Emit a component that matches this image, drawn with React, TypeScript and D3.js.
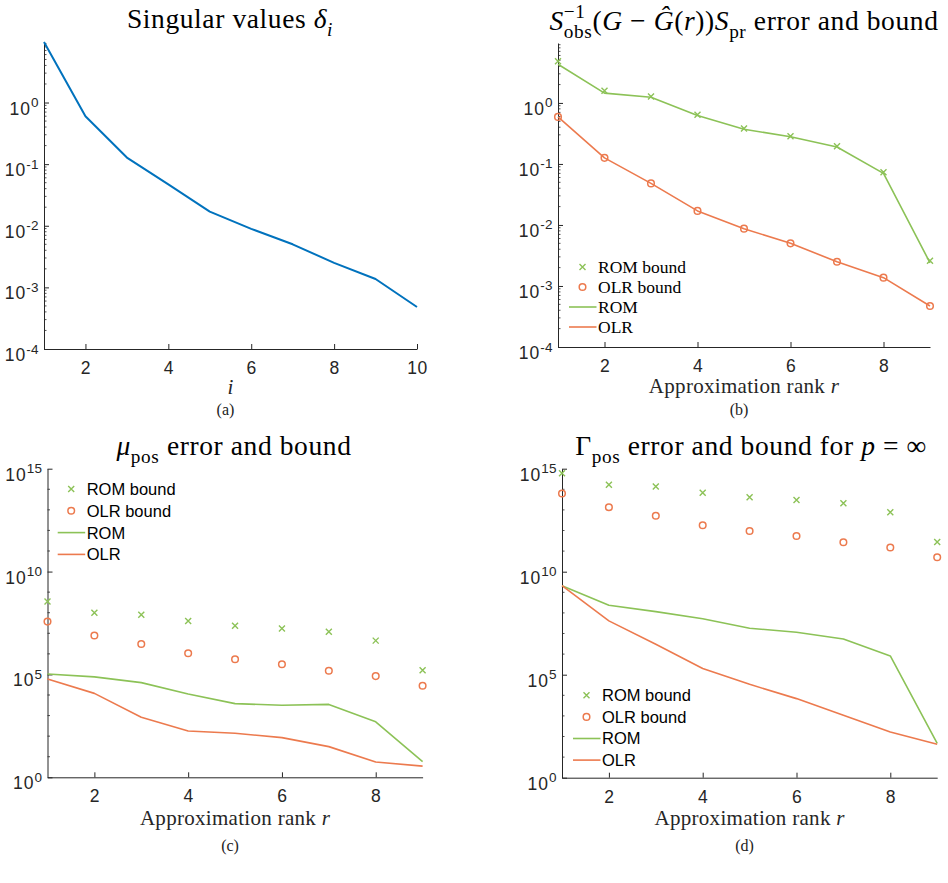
import React, { useEffect, useRef } from 'react';
import * as d3 from 'd3';

// ---- data ----
const idx = [1, 2, 3, 4, 5, 6, 7, 8, 9, 10];
const singularValues = [9.6, 0.6, 0.128, 0.047, 0.017, 0.0089, 0.005, 0.0025, 0.00137, 0.00048];

const ranks = [1, 2, 3, 4, 5, 6, 7, 8, 9];

// (b) S_obs^-1 (G - G(r)) S_pr
const bRomBound = [4.8, 1.58, 1.27, 0.64, 0.38, 0.285, 0.195, 0.073, 0.0026];
const bOlrBound = [0.59, 0.126, 0.048, 0.017, 0.0087, 0.005, 0.0025, 0.00137, 0.00047];
const bRom = [4.3, 1.45, 1.24, 0.62, 0.37, 0.28, 0.19, 0.07, 0.0024];
const bOlr = [0.59, 0.126, 0.048, 0.017, 0.0087, 0.005, 0.0025, 0.00137, 0.00047];

// (c) mu_pos
const cRomBound = [3.5e8, 1e8, 8e7, 4e7, 2.3e7, 1.7e7, 1.2e7, 4.4e6, 1.6e5];
const cOlrBound = [3.7e7, 7.8e6, 3e6, 1.07e6, 5.5e5, 3.1e5, 1.5e5, 8.3e4, 2.8e4];
const cRom = [1.05e5, 7.6e4, 4e4, 1.12e4, 3.8e3, 3.2e3, 3.5e3, 500, 5.8];
const cOlr = [6e4, 1.2e4, 830, 178, 138, 85, 31, 5.5, 3.5];

// (d) Gamma_pos, p = inf
const dRomBound = [6e14, 1.66e14, 1.38e14, 6.8e13, 4.1e13, 3e13, 2.1e13, 7.6e12, 2.75e11];
const dOlrBound = [6.3e13, 1.35e13, 5.2e12, 1.8e12, 9.5e11, 5.4e11, 2.7e11, 1.5e11, 5e10];
const dRom = [2.1e9, 2.35e8, 1.15e8, 5.2e7, 1.8e7, 1.15e7, 5.4e6, 8.1e5, 47];
const dOlr = [2.1e9, 4.1e7, 3e6, 2e5, 3.4e4, 6.9e3, 1.07e3, 166, 42];

const legendLabels = ['ROM bound', 'OLR bound', 'ROM', 'OLR'];

const BLUE = '#0072bd';
const GREEN = '#8cc257';
const ORANGE = '#ec7a4e';
const AXIS = '#262626';
const SERIF = '"Liberation Serif", "Times New Roman", serif';
const SANS = '"Liberation Sans", Arial, sans-serif';

interface Seg { t?: string; it?: boolean; sub?: boolean; stack?: { sup: string; sub: string } }

function richText(sel: any, segs: Seg[], fs: number, family: string) {
  let shift = 0;
  segs.forEach(s => {
    if (s.stack) {
      const up = -0.42 * fs;
      const sp = sel.append('tspan').attr('font-family', family).attr('font-size', fs * 0.7)
        .attr('dy', up - shift).text(s.stack.sup);
      const w = (sp.node() as SVGTextContentElement).getComputedTextLength();
      const down = 0.3 * fs;
      sel.append('tspan').attr('font-family', family).attr('font-size', fs * 0.7)
        .attr('dx', -w).attr('dy', down - up).text(s.stack.sub);
      shift = down;
      return;
    }
    const target = s.sub ? 0.3 * fs : 0;
    sel.append('tspan')
      .attr('font-family', family)
      .attr('font-size', s.sub ? fs * 0.7 : fs)
      .attr('font-style', s.it ? 'italic' : 'normal')
      .attr('dy', target - shift)
      .text(s.t);
    shift = target;
  });
}

interface SeriesCfg { values: number[]; color: string; kind: 'line' | 'x' | 'o'; width?: number }

interface PanelCfg {
  left: number; right: number; top: number; bottom: number;
  xs: number[]; xDomain: [number, number]; xTicks: number[];
  yDomain: [number, number]; yMajor: number[]; yMinor: number[];
  series: SeriesCfg[];
  title: Seg[]; titleX: number; titleY: number;
  xlabel: Seg[]; xlabelY: number;
  sub: string; subY: number;
  legend?: { x: number; y: number; gap: number; font: string; fs: number };
}

const decades = (a: number, b: number) => d3.range(a, b + 1).map(e => Math.pow(10, e));
const logMinor = (a: number, b: number) => {
  const out: number[] = [];
  for (let e = a; e <= b; e++) for (let k = 2; k <= 9; k++) out.push(k * Math.pow(10, e));
  return out;
};

const rankLabel: Seg[] = [{ t: 'Approximation rank ' }, { t: 'r', it: true }];

const panels: PanelCfg[] = [
  {
    left: 44, right: 417, top: 42, bottom: 349,
    xs: idx, xDomain: [1, 10], xTicks: [2, 4, 6, 8, 10],
    yDomain: [1e-4, 9.6], yMajor: decades(-4, 0), yMinor: logMinor(-4, 0).filter(v => v < 9.6),
    series: [{ values: singularValues, color: BLUE, kind: 'line', width: 2 }],
    title: [{ t: 'Singular values ' }, { t: 'δ', it: true }, { t: 'i', it: true, sub: true }],
    titleX: 230, titleY: 28,
    xlabel: [{ t: 'i', it: true }], xlabelY: 394,
    sub: '(a)', subY: 415,
  },
  {
    left: 558, right: 930, top: 43, bottom: 347,
    xs: ranks, xDomain: [1, 9], xTicks: [2, 4, 6, 8],
    yDomain: [1e-4, 9.6], yMajor: decades(-4, 0), yMinor: logMinor(-4, 0).filter(v => v < 9.6),
    series: [
      { values: bRomBound, color: GREEN, kind: 'x' },
      { values: bOlrBound, color: ORANGE, kind: 'o' },
      { values: bRom, color: GREEN, kind: 'line' },
      { values: bOlr, color: ORANGE, kind: 'line' },
    ],
    title: [
      { t: 'S', it: true }, { stack: { sup: '−1', sub: 'obs' } },
      { t: '(' }, { t: 'G', it: true }, { t: ' − ' }, { t: 'Ĝ', it: true }, { t: '(' }, { t: 'r', it: true }, { t: '))' },
      { t: 'S', it: true }, { t: 'pr', sub: true }, { t: ' error and bound' },
    ],
    titleX: 744, titleY: 30,
    xlabel: rankLabel, xlabelY: 393,
    sub: '(b)', subY: 415,
    legend: { x: 569, y: 267, gap: 20, font: SERIF, fs: 17.5 },
  },
  {
    left: 47.5, right: 422.6, top: 468.7, bottom: 777.3,
    xs: ranks, xDomain: [1, 9], xTicks: [2, 4, 6, 8],
    yDomain: [1, 1e15], yMajor: [1, 1e5, 1e10, 1e15], yMinor: decades(1, 14).filter((_, i) => (i + 1) % 5 !== 0),
    series: [
      { values: cRomBound, color: GREEN, kind: 'x' },
      { values: cOlrBound, color: ORANGE, kind: 'o' },
      { values: cRom, color: GREEN, kind: 'line' },
      { values: cOlr, color: ORANGE, kind: 'line' },
    ],
    title: [{ t: 'μ', it: true }, { t: 'pos', sub: true }, { t: ' error and bound' }],
    titleX: 234, titleY: 455,
    xlabel: rankLabel, xlabelY: 825,
    sub: '(c)', subY: 851,
    legend: { x: 57.7, y: 489, gap: 21.8, font: SANS, fs: 16.5 },
  },
  {
    left: 562, right: 937.2, top: 468.7, bottom: 777.7,
    xs: ranks, xDomain: [1, 9], xTicks: [2, 4, 6, 8],
    yDomain: [1, 1e15], yMajor: [1, 1e5, 1e10, 1e15], yMinor: decades(1, 14).filter((_, i) => (i + 1) % 5 !== 0),
    series: [
      { values: dRomBound, color: GREEN, kind: 'x' },
      { values: dOlrBound, color: ORANGE, kind: 'o' },
      { values: dRom, color: GREEN, kind: 'line' },
      { values: dOlr, color: ORANGE, kind: 'line' },
    ],
    title: [{ t: 'Γ' }, { t: 'pos', sub: true }, { t: ' error and bound for ' }, { t: 'p', it: true }, { t: ' = ∞' }],
    titleX: 751, titleY: 455,
    xlabel: rankLabel, xlabelY: 825,
    sub: '(d)', subY: 851,
    legend: { x: 573, y: 695.3, gap: 21.6, font: SANS, fs: 16.5 },
  },
];

function drawMarker(g: any, kind: 'x' | 'o', cx: number, cy: number, color: string) {
  if (kind === 'x') {
    const s = 3;
    g.append('path')
      .attr('d', `M${cx - s},${cy - s}L${cx + s},${cy + s}M${cx - s},${cy + s}L${cx + s},${cy - s}`)
      .attr('stroke', color).attr('stroke-width', 1.4).attr('fill', 'none');
  } else {
    g.append('circle').attr('cx', cx).attr('cy', cy).attr('r', 3.3)
      .attr('stroke', color).attr('stroke-width', 1.5).attr('fill', 'none');
  }
}

function drawPanel(svg: any, p: PanelCfg) {
  const x = d3.scaleLinear().domain(p.xDomain).range([p.left, p.right]);
  const y = d3.scaleLog().domain(p.yDomain).range([p.bottom, p.top]);
  const g = svg.append('g');

  // minor y ticks
  g.append('g').selectAll('line').data(p.yMinor).enter().append('line')
    .attr('x1', p.left).attr('x2', p.left + 2.5)
    .attr('y1', (d: number) => y(d)).attr('y2', (d: number) => y(d))
    .attr('stroke', AXIS).attr('stroke-width', 0.8);

  // y axis
  const yAxis = g.append('g').attr('transform', `translate(${p.left},0)`)
    .call(d3.axisLeft(y).tickValues(p.yMajor).tickSize(-5).tickSizeOuter(0).tickFormat(() => ''));
  yAxis.select('.domain').attr('stroke', AXIS);
  yAxis.selectAll('.tick line').attr('stroke', AXIS);

  // y labels 10^k
  p.yMajor.forEach(v => {
    const t = g.append('text')
      .attr('x', p.left - 5).attr('y', y(v) + 12)
      .attr('text-anchor', 'end').attr('font-family', SANS).attr('fill', AXIS);
    t.append('tspan').attr('font-size', 17.5).attr('letter-spacing', 1).text('10');
    t.append('tspan').attr('font-size', 13.5).attr('letter-spacing', 0.4).attr('dy', -7.5)
      .text(String(Math.round(Math.log10(v))));
  });

  // x axis
  const xAxis = g.append('g').attr('transform', `translate(0,${p.bottom})`)
    .call(d3.axisBottom(x).tickValues(p.xTicks).tickSize(-5).tickSizeOuter(0).tickPadding(12.5).tickFormat(d3.format('d')));
  xAxis.select('.domain').attr('stroke', AXIS);
  xAxis.selectAll('.tick line').attr('stroke', AXIS);
  xAxis.selectAll('.tick text').attr('font-family', SANS).attr('font-size', 17.5)
    .attr('letter-spacing', 0.5).attr('fill', AXIS);

  // series: markers below lines
  p.series.filter(s => s.kind !== 'line').forEach(s => {
    const mg = g.append('g');
    s.values.forEach((v, i) => drawMarker(mg, s.kind as 'x' | 'o', x(p.xs[i]), y(v), s.color));
  });
  p.series.filter(s => s.kind === 'line').forEach(s => {
    const line = d3.line<number>().x((_, i) => x(p.xs[i])).y(v => y(v));
    g.append('path').datum(s.values).attr('d', line)
      .attr('fill', 'none').attr('stroke', s.color).attr('stroke-width', s.width ?? 1.6)
      .attr('stroke-linejoin', 'round');
  });

  // legend
  if (p.legend) {
    const L = p.legend;
    const lg = g.append('g');
    p.series.forEach((s, i) => {
      const cy = L.y + i * L.gap;
      if (s.kind === 'line') {
        lg.append('line').attr('x1', L.x).attr('x2', L.x + 27.5).attr('y1', cy).attr('y2', cy)
          .attr('stroke', s.color).attr('stroke-width', 1.6);
      } else {
        drawMarker(lg, s.kind, L.x + 13.5, cy, s.color);
      }
      lg.append('text').attr('x', L.x + 29).attr('y', cy).attr('dy', '0.36em')
        .attr('font-family', L.font).attr('font-size', L.fs).attr('fill', '#000')
        .text(legendLabels[i]);
    });
  }

  // title
  const tt = g.append('text').attr('x', p.titleX).attr('y', p.titleY)
    .attr('text-anchor', 'middle').attr('font-family', SERIF).attr('font-size', 27.5)
    .attr('letter-spacing', 0.6).attr('fill', '#000').style('white-space', 'pre');
  richText(tt, p.title, 27.5, SERIF);

  // x label
  const xl = g.append('text').attr('x', (p.left + p.right) / 2).attr('y', p.xlabelY)
    .attr('text-anchor', 'middle').attr('font-family', SERIF).attr('font-size', 21)
    .attr('letter-spacing', 0.3).attr('fill', '#262626').style('white-space', 'pre');
  richText(xl, p.xlabel, 21, SERIF);

  // sub caption
  g.append('text').attr('x', (p.left + p.right) / 2 - 5).attr('y', p.subY)
    .attr('text-anchor', 'middle').attr('font-family', SERIF).attr('font-size', 16)
    .attr('fill', '#222').text(p.sub);
}

const App = () => {
  const ref = useRef<SVGSVGElement>(null);

  useEffect(() => {
    const svg = d3.select(ref.current);
    svg.selectAll('*').remove();
    panels.forEach(p => drawPanel(svg, p));
    return () => { svg.selectAll('*').remove(); };
  }, []);

  return (
    <svg ref={ref} width={948} height={883}
      style={{ position: 'absolute', left: 0, top: 0, background: '#fff' }} />
  );
};

export default App;
